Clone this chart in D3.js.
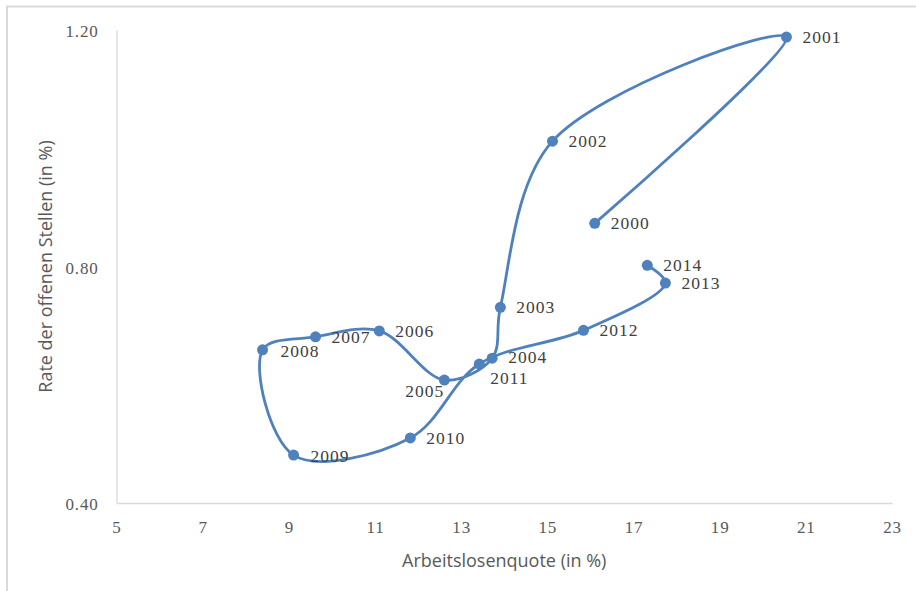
<!DOCTYPE html>
<html>
<head>
<meta charset="utf-8">
<script src="https://cdn.jsdelivr.net/npm/d3@7"></script>
<style>
  html, body { margin: 0; padding: 0; background: #fff; }
  svg { display: block; }
</style>
</head>
<body>
<svg id="chart" width="916" height="591"></svg>
<script>
// Beveridge curve: unemployment rate vs. job vacancy rate, 2000–2014
const years = ["2000","2001","2002","2003","2004","2005","2006","2007","2008","2009","2010","2011","2012","2013","2014"];
const unemployment = [16.1, 20.55, 15.12, 13.91, 13.72, 12.61, 11.1, 9.62, 8.39, 9.11, 11.82, 13.42, 15.84, 17.74, 17.32];
const vacancies    = [0.873, 1.188, 1.012, 0.731, 0.645, 0.608, 0.691, 0.681, 0.659, 0.481, 0.510, 0.635, 0.692, 0.772, 0.802];
const xTicks = [5, 7, 9, 11, 13, 15, 17, 19, 21, 23];
const yTicks = [0.40, 0.80, 1.20];

const svg = d3.select("#chart");
const W = 916, H = 591;
const margin = { left: 116.5, right: 24, top: 30, bottom: 88 };
const color = "#4f81bd";
const textColor = "#595959";
const serif = "'Liberation Serif', 'DejaVu Serif', serif";
const sans = "'Open Sans', sans-serif";

// outer chart frame
svg.append("path")
  .attr("d", `M7,${H} V6.5 H${W}`)
  .attr("fill", "none").attr("stroke", "#d9d9d9").attr("stroke-width", 2);

const x = d3.scaleLinear().domain([5, 23]).range([margin.left, W - margin.right]);
const y = d3.scaleLinear().domain([0.40, 1.20]).range([H - margin.bottom, margin.top]);

// axes
const xAxis = svg.append("g")
  .attr("transform", `translate(0,${y(0.40)})`)
  .call(d3.axisBottom(x).tickValues(xTicks).tickSize(0).tickPadding(18).tickFormat(d3.format("d")));
const yAxis = svg.append("g")
  .attr("transform", `translate(${x(5)},0)`)
  .call(d3.axisLeft(y).tickValues(yTicks).tickSize(0).tickPadding(18).tickFormat(d3.format(".2f")));

[xAxis, yAxis].forEach(g => {
  g.select(".domain").attr("stroke", "#d9d9d9").attr("stroke-width", 1.3);
  g.selectAll("text")
    .attr("fill", textColor)
    .style("font-family", serif)
    .style("font-size", "17px")
    .style("letter-spacing", "0.8px");
});
yAxis.selectAll("text").attr("dy", "0.4em");

// axis titles
svg.append("text")
  .attr("x", (x(5) + x(23)) / 2).attr("y", 567)
  .attr("text-anchor", "middle")
  .attr("fill", textColor)
  .style("font-family", sans).style("font-size", "18px")
  .text("Arbeitslosenquote (in %)");

svg.append("text")
  .attr("transform", `translate(52,${y(0.80)}) rotate(-90)`)
  .attr("text-anchor", "middle")
  .attr("fill", textColor)
  .style("font-family", sans).style("font-size", "18px")
  .text("Rate der offenen Stellen (in %)");

const data = years.map((yr, i) => ({ year: yr, u: unemployment[i], v: vacancies[i] }));

// smoothed trajectory through the yearly points
const line = d3.line()
  .x(d => x(d.u)).y(d => y(d.v))
  .curve(d3.curveCatmullRom.alpha(0.5));

svg.append("path")
  .datum(data)
  .attr("d", line)
  .attr("fill", "none")
  .attr("stroke", color)
  .attr("stroke-width", 2.8)
  .attr("stroke-linejoin", "round");

svg.selectAll("circle.pt")
  .data(data)
  .join("circle")
  .attr("class", "pt")
  .attr("cx", d => x(d.u)).attr("cy", d => y(d.v))
  .attr("r", 5.5)
  .attr("fill", color);

// label placement relative to each point (dx, dy, anchor)
const labelPos = {
  "2005": [0, 17, "end"],
  "2011": [11, 20, "start"],
  "2004": [16, 5, "start"],
  "2008": [18, 7, "start"],
  "2009": [17, 7, "start"]
};
const defaultPos = [16, 6, "start"];

svg.selectAll("text.yr")
  .data(data)
  .join("text")
  .attr("class", "yr")
  .attr("x", d => x(d.u) + (labelPos[d.year] || defaultPos)[0])
  .attr("y", d => y(d.v) + (labelPos[d.year] || defaultPos)[1])
  .attr("text-anchor", d => (labelPos[d.year] || defaultPos)[2])
  .attr("fill", "#404040")
  .style("font-family", serif)
  .style("font-size", "17.5px")
  .style("letter-spacing", "1px")
  .text(d => d.year);
</script>
</body>
</html>
